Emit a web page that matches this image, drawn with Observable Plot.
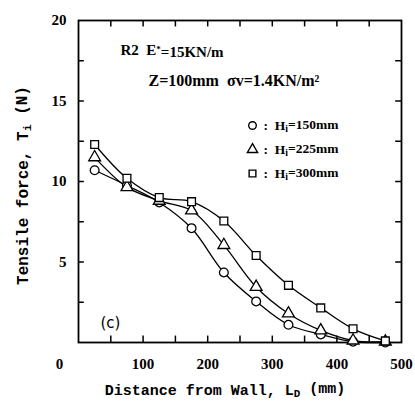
<!DOCTYPE html>
<html>
<head>
<meta charset="utf-8">
<script src="https://cdn.jsdelivr.net/npm/d3@7"></script>
<script src="https://cdn.jsdelivr.net/npm/@observablehq/plot@0.6"></script>
<style>
  html, body { margin: 0; padding: 0; background: #fff; }
  #chart svg { display: block; }
</style>
</head>
<body>
<div id="chart"></div>
<script>
// Distance from wall (mm)
const distance = [25, 75, 125, 175, 225, 275, 325, 375, 425, 475];
// Tensile force Ti (N) for each Hi
const h150 = [10.7, 9.75, 8.7, 7.1, 4.35, 2.55, 1.1, 0.5, 0.05, 0.0];
const h225 = [11.5, 9.65, 8.8, 8.2, 6.05, 3.45, 1.8, 0.75, 0.12, 0.05];
const h300 = [12.3, 10.2, 9.0, 8.75, 7.55, 5.4, 3.55, 2.15, 0.85, 0.1];
const seriesNames = ["Hi=150mm", "Hi=225mm", "Hi=300mm"];
const seriesSymbols = ["circle", "triangle", "square"];
const xTicks = [100, 200, 300, 400, 500];
const xMinor = [50, 100, 150, 200, 250, 300, 350, 400, 450];
const yTicks = [5, 10, 15, 20];
const yMinor = [2.5, 5, 7.5, 10, 12.5, 15, 17.5];
const annot1 = "R2  E*=15KN/m";
const annot2 = "Z=100mm  σv=1.4KN/m²";
const panelLabel = "(c)";
const xLabel = "Distance from Wall, LD (mm)";
const yLabel = "Tensile force, Ti (N)";

const seriesValues = [h150, h225, h300];
const data = [];
seriesNames.forEach((s, i) => distance.forEach((d, j) => data.push({series: s, x: d, y: seriesValues[i][j]})));

const serif = "'Liberation Serif', 'Times New Roman', serif";
const mono = "'Liberation Mono', 'Courier New', monospace";

const legendMarks = seriesNames.flatMap((s, i) => [
  Plot.dot([s], {frameAnchor: "top-left", dx: 174, dy: 105 + 24 * i, symbol: (d) => d, r: 3.8, fill: "#fff", stroke: "#000", strokeWidth: 1.4}),
  Plot.text([":  " + s], {frameAnchor: "top-left", dx: 185, dy: 105 + 24 * i, textAnchor: "start", lineAnchor: "middle", fontSize: 13.5, fontWeight: "bold", fontFamily: serif})
]);

const X0 = 0, X1 = 500, Y0 = 0, Y1 = 20;
const tx = 0.4;   // inner tick length, in y units
const ty = 9;     // inner tick length, in x units
const tickStyle = {stroke: "#000", strokeWidth: 1.5};

const chart = Plot.plot({
  width: 415,
  height: 405,
  marginLeft: 78,
  marginRight: 14,
  marginTop: 20,
  marginBottom: 63,
  style: {fontFamily: serif, fontWeight: "bold", background: "#fff", color: "#000"},
  x: {domain: [X0, X1]},
  y: {domain: [Y0, Y1]},
  symbol: {domain: seriesNames, range: seriesSymbols},
  marks: [
    // inner ticks on all four sides
    Plot.ruleX(xMinor, {x: (d) => d, y1: Y0, y2: Y0 + tx, ...tickStyle}),
    Plot.ruleX(xMinor, {x: (d) => d, y1: Y1, y2: Y1 - tx, ...tickStyle}),
    Plot.ruleY(yMinor, {y: (d) => d, x1: X0, x2: X0 + ty, ...tickStyle}),
    Plot.ruleY(yMinor, {y: (d) => d, x1: X1, x2: X1 - ty, ...tickStyle}),
    Plot.frame({stroke: "#000", strokeWidth: 1.8}),
    // tick labels
    Plot.axisX(xTicks, {anchor: "bottom", tickSize: 0, tickPadding: 16, fontSize: 15, fontWeight: "bold", label: null}),
    Plot.axisX([0], {anchor: "bottom", tickSize: 0, tickPadding: 16, fontSize: 15, fontWeight: "bold", dx: -19, label: null}),
    Plot.axisY(yTicks, {anchor: "left", tickSize: 0, tickPadding: 12, fontSize: 15, fontWeight: "bold", label: null}),
    // axis titles
    Plot.text([xLabel], {frameAnchor: "bottom", textAnchor: "middle", dx: -15, dy: 52, fontSize: 15, fontWeight: "bold", fontFamily: mono}),
    Plot.text([yLabel], {frameAnchor: "left", textAnchor: "middle", lineAnchor: "middle", rotate: -90, dx: -56, dy: 4, fontSize: 16, fontWeight: "bold", fontFamily: mono}),
    // annotations
    Plot.text([annot1], {frameAnchor: "top-left", dx: 42, dy: 30, textAnchor: "start", lineAnchor: "middle", fontSize: 15, fontWeight: "bold"}),
    Plot.text([annot2], {frameAnchor: "top-left", dx: 70, dy: 60, textAnchor: "start", lineAnchor: "middle", fontSize: 16, fontWeight: "bold"}),
    Plot.text([panelLabel], {frameAnchor: "bottom-left", dx: 22, dy: -19, textAnchor: "start", lineAnchor: "middle", fontSize: 15, fontFamily: "'DejaVu Sans', sans-serif", fontWeight: "normal"}),
    // data
    Plot.line(data, {x: "x", y: "y", z: "series", curve: "catmull-rom", stroke: "#000", strokeWidth: 1.3}),
    Plot.dot(data, {x: "x", y: "y", symbol: "series", r: 4.4, fill: "#fff", stroke: "#000", strokeWidth: 1.3}),
    ...legendMarks
  ]
});

// subscripts / superscripts as real text
function split(el, parts) {
  const t = d3.select(el);
  t.text(null);
  parts.forEach(([str, kind]) => {
    const ts = t.append("tspan").text(str);
    if (kind === "sub") ts.attr("dy", "0.25em").attr("font-size", "0.72em");
    if (kind === "back") ts.attr("dy", "-0.25em");
    if (kind === "sup") ts.attr("dy", "-0.35em").attr("font-size", "0.6em");
    if (kind === "backsup") ts.attr("dy", "0.35em");
  });
}
d3.select(chart).selectAll("text").each(function () {
  const s = this.textContent;
  if (s === xLabel) split(this, [["Distance from Wall, L", ""], ["D", "sub"], [" (mm)", "back"]]);
  else if (s === yLabel) split(this, [["Tensile force, T", ""], ["i", "sub"], [" (N)", "back"]]);
  else if (s === annot1) split(this, [["R2  E", ""], ["*", "sup"], ["=15KN/m", "backsup"]]);
  else if (/^:  Hi=/.test(s)) split(this, [[":  H", ""], ["i", "sub"], [s.slice(5), "back"]]);
});
document.getElementById("chart").appendChild(chart);
</script>
</body>
</html>
